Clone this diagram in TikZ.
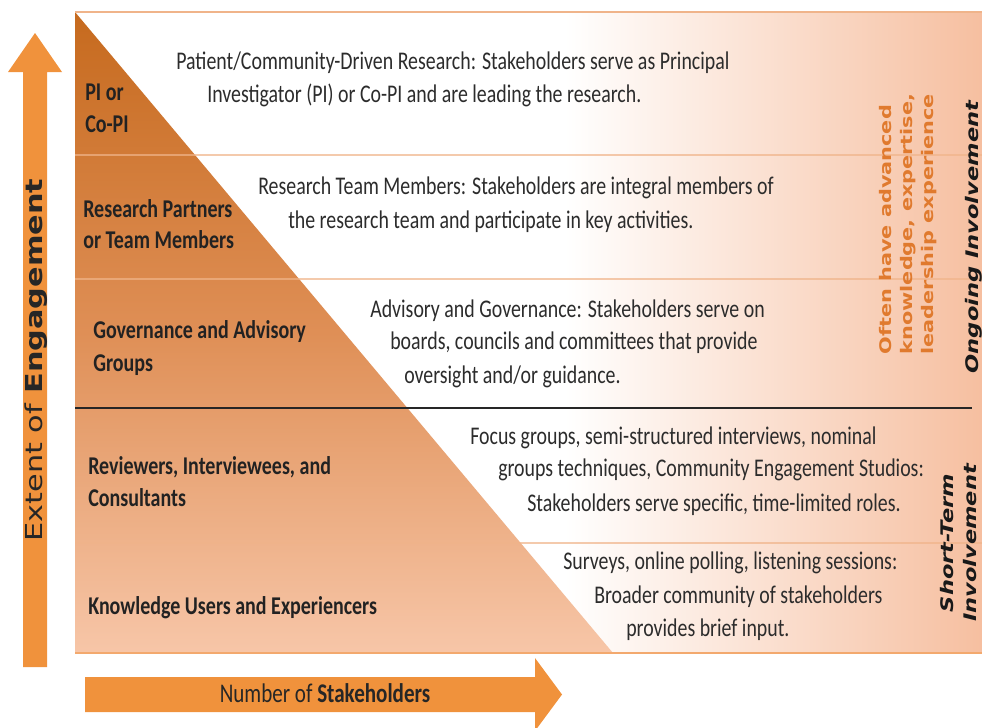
\documentclass[tikz,border=0pt]{standalone}
\usepackage{fontspec}
\usepackage{graphicx}
\setmainfont{Carlito}
\newfontfamily\verd{DejaVu Sans}
\usetikzlibrary{calc}

\definecolor{arrowor}{HTML}{F0923C}
\definecolor{peach}{HTML}{F6BFA0}
\definecolor{triTop}{HTML}{C66A1E}
\definecolor{triMid}{HTML}{DF8F56}
\definecolor{triBot}{HTML}{F7C6A8}
\definecolor{rulecol}{HTML}{F0B48A}
\definecolor{labelink}{HTML}{222222}
\definecolor{bodyink}{HTML}{2C2C2C}
\definecolor{noteor}{HTML}{E07A2E}

% horizontal fade of the panel and vertical fade of the wedge
\pgfdeclarehorizontalshading{panelshade}{100bp}{color(0bp)=(white); color(25bp)=(white); color(52bp)=(white); color(75bp)=(peach); color(100bp)=(peach)}
\pgfdeclareverticalshading{wedgeshade}{100bp}{color(0bp)=(triBot); color(25bp)=(triBot); color(50bp)=(triMid); color(75bp)=(triTop); color(100bp)=(triTop)}

% tall glyphs: stretched vertically, or along the line for rotated text
\newcommand{\tallv}[1]{\scalebox{1}[1.28]{#1}}
\newcommand{\tallh}[1]{\scalebox{1.3}[1]{#1}}

\tikzset{
  body/.style={anchor=base west, inner sep=0pt, text=bodyink,
    font=\fontsize{14.9}{17}\selectfont},
  level/.style={anchor=base west, inner sep=0pt, text=labelink,
    font=\fontsize{15}{17}\selectfont\bfseries},
  rowrule/.style={draw=rulecol, line width=0.8pt},
  bigarrow/.style={fill=arrowor, draw=none},
}

\begin{document}
\begin{tikzpicture}[x=0.75pt,y=-0.75pt]
\useasboundingbox (0,0) rectangle (982,728);

% panel and wedge
\shade[shading=panelshade] (75,12) rectangle (982,653);
\shade[shading=wedgeshade] (75,12) -- (613,653) -- (75,653) -- cycle;

% row separators
\draw[rowrule] (75,12) -- (982,12);
\draw[rowrule, opacity=0.7] (75,155) -- (982,155);
\draw[rowrule, opacity=0.7] (75,279) -- (982,279);
\draw[rowrule, opacity=0.7] (75,543) -- (982,543);
\draw[draw=rulecol!80!orange, line width=1pt] (75,653) -- (982,653);
\draw[draw=black!85, line width=1.4pt] (75,408) -- (972,408);

% axis arrows
\fill[bigarrow] (23,667) -- (23,72) -- (8,72) -- (35,33) -- (62,72) -- (47,72) -- (47,667) -- cycle;
\fill[bigarrow] (85,677) -- (535,677) -- (535,658) -- (562,694.5) -- (535,731) -- (535,712) -- (85,712) -- cycle;

\node[rotate=90, inner sep=0pt, text=black!85, font=\fontsize{17.5}{20}\selectfont]
  (yaxis) at (36,360) {\tallh{\verd Extent of \textbf{Engagement}}};
\node[inner sep=0pt, anchor=base, text=black!85, font=\fontsize{15.8}{18}\selectfont]
  (xaxis) at (325,702) {\tallv{Number of \textbf{Stakeholders}}};

% level names
\node[level] (l1a) at (85,100) {\tallv{PI or}};
\node[level] (l1b) at (85,132) {\tallv{Co-PI}};
\node[level] (l2a) at (83,217) {\tallv{Research Partners}};
\node[level] (l2b) at (83,248) {\tallv{or Team Members}};
\node[level] (l3a) at (93,338) {\tallv{Governance and Advisory}};
\node[level] (l3b) at (93,371) {\tallv{Groups}};
\node[level] (l4a) at (88,474) {\tallv{Reviewers, Interviewees, and}};
\node[level] (l4b) at (88,506) {\tallv{Consultants}};
\node[level] (l5a) at (88,614) {\tallv{Knowledge Users and Experiencers}};

% level descriptions
\node[body] (d1a) at (176,69) {\tallv{Patient/Community-Driven Research: Stakeholders serve as Principal}};
\node[body] (d1b) at (207,102) {\tallv{Investigator (PI) or Co-PI and are leading the research.}};
\node[body] (d2a) at (258,194) {\tallv{Research Team Members: Stakeholders are integral members of}};
\node[body] (d2b) at (288,228) {\tallv{the research team and participate in key activities.}};
\node[body] (d3a) at (370,317) {\tallv{Advisory and Governance: Stakeholders serve on}};
\node[body] (d3b) at (390,349) {\tallv{boards, councils and committees that provide}};
\node[body] (d3c) at (404,383) {\tallv{oversight and/or guidance.}};
\node[body] (d4a) at (470,444) {\tallv{Focus groups, semi-structured interviews, nominal}};
\node[body] (d4b) at (498,476) {\tallv{groups techniques, Community Engagement Studios:}};
\node[body] (d4c) at (527,511) {\tallv{Stakeholders serve specific, time-limited roles.}};
\node[body] (d5a) at (563,569) {\tallv{Surveys, online polling, listening sessions:}};
\node[body] (d5b) at (594,603) {\tallv{Broader community of stakeholders}};
\node[body] (d5c) at (626,636) {\tallv{provides brief input.}};

% side notes
\node[rotate=90, inner sep=0pt, text=noteor, align=left,
  font=\fontsize{12}{16.9}\selectfont\verd\bfseries]
  (expertise) at (908,224) {\tallh{\begin{tabular}{@{}l@{}}Often have advanced\\[-1pt]knowledge, expertise,\\[-1pt]leadership experience\end{tabular}}};
\node[rotate=90, inner sep=0pt, text=black!90,
  font=\fontsize{13}{16}\selectfont\verd\bfseries\itshape]
  (ongoing) at (974,237) {\tallh{Ongoing Involvement}};
\node[rotate=90, inner sep=0pt, text=black!90,
  font=\fontsize{13}{16}\selectfont\verd\bfseries\itshape]
  (shortterm) at (961,543) {\tallh{\begin{tabular}{@{}c@{}}Short-Term\\[1pt]Involvement\end{tabular}}};
\end{tikzpicture}
\end{document}
